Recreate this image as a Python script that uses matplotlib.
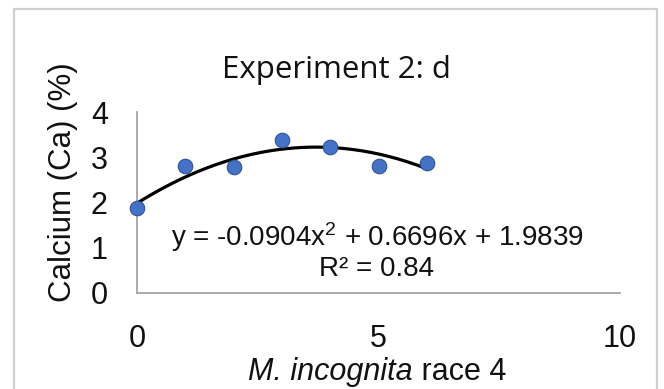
import numpy as np
import matplotlib.pyplot as plt
from matplotlib.patches import Rectangle

# Calcium data, Experiment 2: d
race4_level = [0, 1, 2, 3, 4, 5, 6]
calcium_pct = [1.88, 2.81, 2.78, 3.38, 3.23, 2.81, 2.88]

# polynomial trendline (order 2) coefficients as printed on the chart
trend_coef = [-0.0904, 0.6696, 1.9839]
r_squared = 0.84

plt.rcParams["mathtext.fontset"] = "custom"
plt.rcParams["mathtext.rm"] = "Liberation Sans"
plt.rcParams["mathtext.it"] = "Liberation Sans:italic"

W, H = 664, 389
fig = plt.figure(figsize=(W / 100, H / 100), dpi=100)

# outer chart border
fig.patches.append(Rectangle((14 / W, -0.05), (657 - 14) / W, 1.05 - 9 / H,
                             transform=fig.transFigure, fill=False,
                             edgecolor="#D0D0D0", linewidth=1.6))

ax = fig.add_axes([137 / W, 1 - 293 / H, (620 - 137) / W, (293 - 112) / H])

ax.scatter(race4_level, calcium_pct, s=110, color="#4472C4",
           edgecolors="#2F5597", linewidths=0.8, zorder=3, clip_on=False)

xs = np.linspace(min(race4_level), max(race4_level), 200)
ax.plot(xs, np.polyval(trend_coef, xs), color="black", linewidth=2.3,
        zorder=2, clip_on=False)

ax.set_xlim(0, 10)
ax.set_ylim(0, 4)
ax.set_xticks([0, 5, 10])
ax.set_yticks([0, 1, 2, 3, 4])
for side in ["top", "right"]:
    ax.spines[side].set_visible(False)
for side in ["left", "bottom"]:
    ax.spines[side].set_color("#A6A6A6")
    ax.spines[side].set_linewidth(1.3)
ax.tick_params(length=0, labelsize=22, labelcolor="#111111")
ax.tick_params(axis="x", pad=22)
ax.tick_params(axis="y", pad=21)
for lab in ax.get_xticklabels() + ax.get_yticklabels():
    lab.set_fontfamily("Liberation Sans")

fig.text(336 / W, 1 - 70 / H, "Experiment 2: d", ha="center", va="center",
         fontsize=22.5, family="Open Sans", color="#111111")
fig.text(63 / W, 1 - 182 / H, "Calcium (Ca) (%)", rotation=90,
         ha="center", va="center", fontsize=22.5, family="Liberation Sans",
         color="#111111")

# x label: italic species name followed by upright "race 4"
xl = fig.text(248 / W, 1 - 372 / H, "M. incognita", ha="left",
              va="center", fontsize=22, family="Liberation Sans",
              style="italic", color="#111111")
ax.annotate(" race 4", xy=(1, 0), xycoords=xl, ha="left", va="bottom",
            fontsize=22, family="Liberation Sans", color="#111111",
            annotation_clip=False)

a, b, c = trend_coef
fig.text(377 / W, 1 - 237 / H,
         f"y = {a}x$^2$ + {b}x + {c}", ha="center", va="center",
         fontsize=20, family="Liberation Sans", color="#111111")
fig.text(377 / W, 1 - 269 / H, f"R² = {r_squared}", ha="center",
         va="center", fontsize=20, family="Liberation Sans",
         color="#111111")

fig.savefig("out.png", dpi=100)
